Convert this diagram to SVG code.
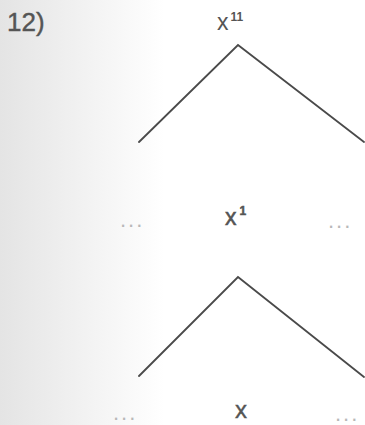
<svg xmlns="http://www.w3.org/2000/svg" width="365" height="425" viewBox="0 0 365 425">
<defs>
<linearGradient id="bg" x1="0" y1="0" x2="1" y2="0">
<stop offset="0" stop-color="#e4e4e4"/>
<stop offset="0.45" stop-color="#ffffff"/>
<stop offset="1" stop-color="#ffffff"/>
</linearGradient>
<style>
.t{font-family:"Liberation Sans",Arial,sans-serif;fill:#555}
.d{font-family:"Liberation Sans",Arial,sans-serif;fill:#b8b8b8;font-size:22px;letter-spacing:2px}
.e{fill:none;stroke:#4a4a4a;stroke-width:1.8;stroke-linecap:round}
</style>
</defs>
<rect width="365" height="425" fill="url(#bg)"/>
<text class="t" x="7" y="31" font-size="26" stroke="#555" stroke-width="0.4">12)</text>
<g id="connectors">
<polyline class="e" points="139,142 238,45 364,142"/>
<polyline class="e" points="139,376 238,277 364,377"/>
</g>
<g id="n-x11"><text class="t" x="217" y="30" font-size="23">x<tspan font-size="12" dx="2" dy="-9" font-weight="bold">11</tspan></text></g>
<g id="n-x1"><text class="t" x="225" y="225" font-size="23" stroke="#555" stroke-width="0.5">x<tspan font-size="12" dx="3" dy="-10" font-weight="bold">1</tspan></text></g>
<g id="n-x"><text class="t" x="235" y="418" font-size="24" stroke="#555" stroke-width="0.4">x</text></g>
<g id="dots">
<text class="d" x="120" y="227">...</text>
<text class="d" x="328" y="228">...</text>
<text class="d" x="113" y="420">...</text>
<text class="d" x="335" y="421">...</text>
</g>
</svg>
